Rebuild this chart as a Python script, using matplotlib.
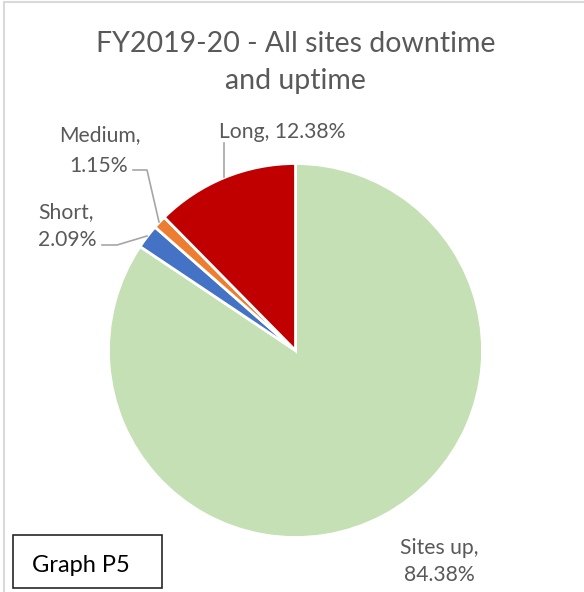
import matplotlib
matplotlib.use("Agg")
import matplotlib.pyplot as plt
from matplotlib.patches import Rectangle

# Data
categories = ["Sites up", "Short", "Medium", "Long"]
values = [84.38, 2.09, 1.15, 12.38]
colors = ["#C5E0B4", "#4472C4", "#ED7D31", "#C00000"]
title_lines = ["FY2019-20 - All sites downtime", "and uptime"]

W, H = 584, 592
fig = plt.figure(figsize=(W / 100, H / 100), dpi=100)
ax = fig.add_axes([0, 0, 1, 1])

def Y(y):
    return H - y

FONT = ["Lato", "DejaVu Sans"]
TXT = "#595959"
LINE = "#A6A6A6"

cx, cy, r = 295.5, 350.5, 187
ax.pie(values, colors=colors, startangle=90, counterclock=False,
       center=(cx, Y(cy)), radius=r, frame=True,
       wedgeprops=dict(edgecolor="white", linewidth=2))
ax.set_xlim(0, W)
ax.set_ylim(0, H)
ax.set_aspect("equal")
ax.axis("off")

# outer chart border
ax.add_patch(Rectangle((3.5, Y(640)), 700, 638.5, fill=False,
                       edgecolor="#D9D9D9", lw=1.5, clip_on=True))

ax.text(295.5, Y(52), title_lines[0], ha="center", va="baseline",
        fontsize=20.5, color=TXT, family=FONT)
ax.text(295.5, Y(89), title_lines[1], ha="center", va="baseline",
        fontsize=20.5, color=TXT, family=FONT)

lab = dict(fontsize=15.2, color=TXT, family=FONT, va="baseline")

# Long
ax.text(219, Y(138), f"{categories[3]}, {values[3]:.2f}%", ha="left", **lab)
ax.plot([224, 224], [Y(143), Y(177)], color=LINE, lw=1.2)
# Medium
ax.text(99.5, Y(141), f"{categories[2]},", ha="center", **lab)
ax.text(128, Y(172), f"{values[2]:.2f}%", ha="right", **lab)
ax.plot([133, 147, 159], [Y(170), Y(170), Y(222)], color=LINE, lw=1.2)
# Short
ax.text(38, Y(218), f"{categories[1]},", ha="left", **lab)
ax.text(38, Y(246), f"{values[1]:.2f}%", ha="left", **lab)
ax.plot([102, 117, 147], [Y(245), Y(245), Y(236)], color=LINE, lw=1.2)
# Sites up
ax.text(439.5, Y(554), f"{categories[0]},", ha="center", **lab)
ax.text(439.5, Y(581), f"{values[0]:.2f}%", ha="center", **lab)

# Graph P5 box
ax.add_patch(Rectangle((13, Y(588)), 149, 53, fill=False, edgecolor="#262626", lw=1.2))
ax.text(80.5, Y(572), "Graph P5", ha="center", va="baseline", fontsize=17,
        color="black", family=FONT)

fig.savefig("out.png", dpi=100)
